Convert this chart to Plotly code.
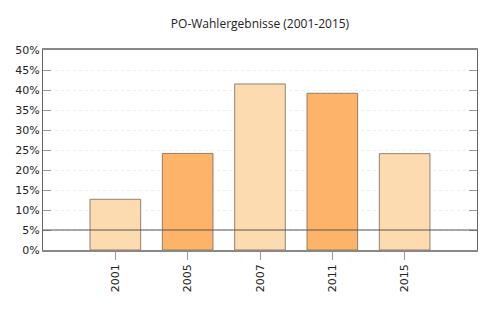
import plotly.graph_objects as go

years = ["2001", "2005", "2007", "2011", "2015"]
values = [12.68, 24.14, 41.51, 39.18, 24.09]
colors = ["#FDDBB0", "#FDB469", "#FDDBB0", "#FDB469", "#FDDBB0"]
threshold = 5

fig = go.Figure()
fig.add_trace(go.Bar(
    x=years, y=values, width=0.7,
    marker=dict(color=colors, line=dict(color="rgba(130,110,90,0.85)", width=1)),
    hoverinfo="x+y",
))
fig.add_shape(type="line", xref="paper", x0=0, x1=1, yref="y", y0=threshold, y1=threshold,
              line=dict(color="#555555", width=1), layer="above")

fig.update_layout(
    width=500, height=313,
    margin=dict(l=43, r=23, t=50, b=63),
    paper_bgcolor="white", plot_bgcolor="white",
    title=dict(text="PO-Wahlergebnisse (2001-2015)", x=0.52, xanchor="center", y=0.925, yanchor="middle",
               font=dict(family="Open Sans", size=12, color="#222")),
    showlegend=False,
    bargap=0.3,
)
fig.update_xaxes(
    type="category", range=[-1, 5], tickangle=-90,
    ticks="outside", ticklen=8, tickcolor="#999",
    showline=True, linecolor="#888", linewidth=1.5, mirror=True,
    showgrid=False,
    tickfont=dict(family="DejaVu Sans", size=11, color="#222"),
)
fig.update_yaxes(
    range=[0, 50], dtick=5, ticksuffix="%",
    ticks="inside", ticklen=8, tickcolor="#999",
    showline=True, linecolor="#666", linewidth=1, mirror="ticks",
    showgrid=True, gridcolor="#ededed", griddash="dot", gridwidth=1,
    zeroline=False,
    tickfont=dict(family="DejaVu Sans", size=11, color="#222"),
)
fig.write_html("out.html")
